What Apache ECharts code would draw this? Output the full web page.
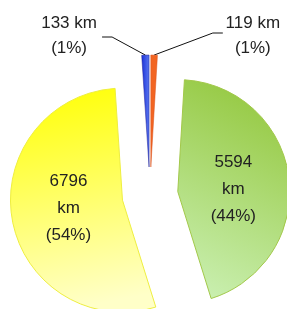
<!DOCTYPE html>
<html>
<head>
<meta charset="utf-8">
<script src="https://cdn.jsdelivr.net/npm/echarts@6/dist/echarts.min.js"></script>
<style>
  html, body { margin: 0; padding: 0; background: #fff; }
  #main { width: 287px; height: 309px; }
</style>
</head>
<body>
<div id="main"></div>
<script>
// order is clockwise from 12 o'clock
var names = ['119', '5594', '6796', '133'];
var values = [119, 5594, 6796, 133];
var percents = ['1%', '44%', '54%', '1%'];

var colors = [
    '#f26522',
    new echarts.graphic.LinearGradient(1, 0, 0, 1, [
        { offset: 0, color: '#8fc434' },
        { offset: 1, color: '#cdf2b8' }
    ]),
    new echarts.graphic.LinearGradient(0, 0, 0.3, 1, [
        { offset: 0, color: '#ffff00' },
        { offset: 1, color: '#ffffc8' }
    ]),
    new echarts.graphic.LinearGradient(0, 0, 1, 0, [
        { offset: 0, color: '#1a2fd8' },
        { offset: 1, color: '#5a78f0' }
    ])
];
var borders = ['#d8501a', '#a2c84a', '#eeee40', '#1a1a90'];

var OFFSET = 28;

// small labels: distance from the chart edge, and the leader line knee/end
var smallLabel = {
    0: { edge: 2, knee: [212, 33], end: [222, 33] },
    3: { edge: 37, knee: [113, 37], end: [103, 37] }
};
// nudges for the big inside labels
var insideShift = { 1: [-3, 5], 2: [4, -3] };

var chart = echarts.init(document.getElementById('main'));

var pieData = values.map(function (v, i) {
    var s = smallLabel[i];
    return {
        name: names[i],
        value: v,
        selected: true,
        itemStyle: { color: colors[i], borderColor: borders[i], borderWidth: s ? 0.5 : 1 },
        label: s ? {
            position: 'outside',
            alignTo: 'edge',
            edgeDistance: s.edge,
            formatter: '{a|' + v + ' km}\n{a|(' + percents[i] + ')}',
            rich: { a: { width: 66, align: 'center', fontSize: 17, lineHeight: 25, color: '#222', fontFamily: 'Liberation Sans' } }
        } : {
            position: 'inside',
            align: 'center',
            formatter: v + '\nkm\n(' + percents[i] + ')'
        },
        labelLine: { show: !!s, length: 19, length2: 10 }
    };
});

chart.setOption({
    animation: false,
    series: [{
        type: 'pie',
        center: [150, 195],
        radius: 112,
        startAngle: 90,
        clockwise: true,
        selectedMode: 'multiple',
        selectedOffset: OFFSET,
        avoidLabelOverlap: false,
        label: {
            color: '#222',
            fontFamily: 'Liberation Sans',
            fontSize: 17,
            lineHeight: 27
        },
        labelLine: {
            lineStyle: { color: '#111', width: 1 }
        },
        labelLayout: function (params) {
            var s = smallLabel[params.dataIndex];
            if (!s || !params.labelLinePoints) {
                var d = insideShift[params.dataIndex] || [0, 0];
                return { dx: d[0], dy: d[1] };
            }
            // leader line lives in the sector's own (un-exploded) frame
            var start = params.labelLinePoints[0];
            return {
                labelLinePoints: [
                    start,
                    [s.knee[0], s.knee[1] + OFFSET],
                    [s.end[0], s.end[1] + OFFSET]
                ]
            };
        },
        data: pieData
    }]
});
</script>
</body>
</html>
